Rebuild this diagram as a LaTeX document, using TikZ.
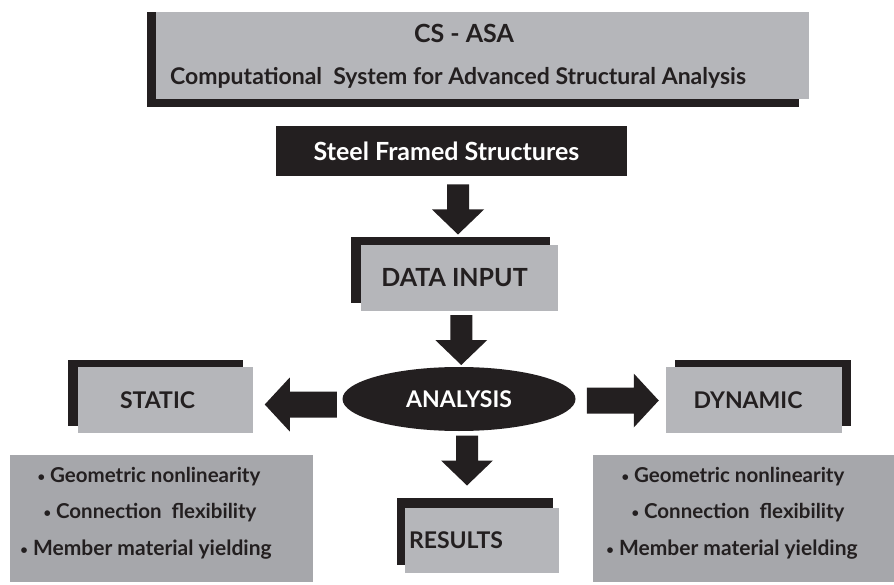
\documentclass[tikz,border=0pt]{standalone}
\usepackage{fontspec}
\setmainfont{Lato}
\usetikzlibrary{shapes.geometric,backgrounds,calc}
\definecolor{ink}{HTML}{231F20}
\definecolor{boxgray}{HTML}{B5B6BA}
\definecolor{listgray}{HTML}{A6A7AB}
\newcommand{\bul}{{\fontsize{13}{13}\selectfont\raisebox{1pt}{•}}}
\tikzset{
  gbox/.style={fill=boxgray, draw=none, inner sep=0pt, text=ink,
    font=\bfseries\fontsize{23}{26}\selectfont},
  sbox/.style={fill=ink, draw=none, inner sep=0pt},
  lbox/.style={fill=listgray, draw=none, inner sep=0pt},
  lbl/.style={text=ink, inner sep=0pt, font=\bfseries\fontsize{23}{26}\selectfont},
  blt/.style={text=ink, inner sep=0pt, font=\bfseries\fontsize{20.5}{24}\selectfont},
  pics/dnarrow/.style={code={\fill[ink] (-11,-25) -- (-11,0) -- (-26,0) -- (0,25) -- (26,0) -- (11,0) -- (11,-25) -- cycle;}},
  pics/lfarrow/.style={code={\fill[ink] (36,-13) -- (-11,-13) -- (-11,-27) -- (-36,0) -- (-11,27) -- (-11,13) -- (36,13) -- cycle;}},
  pics/rtarrow/.style={code={\fill[ink] (-36,-13) -- (11,-13) -- (11,-27) -- (36,0) -- (11,27) -- (11,13) -- (-36,13) -- cycle;}},
}
\begin{document}
\begin{tikzpicture}[x=1pt,y=-1pt]
\useasboundingbox (0,0) rectangle (894,585);
% top title box
\node[gbox, minimum width=653pt, minimum height=87pt] (top) at (482.5,55.5) {};
\node[lbl, font=\bfseries\fontsize{25}{28}\selectfont, anchor=base] (cs) at (464,43) {CS - ASA};
\node[lbl, anchor=base] (comp) at (458,85) {Computational\ \ System for Advanced Structural Analysis};
% steel framed structures
\node[sbox, minimum width=351pt, minimum height=50pt,
  label={[lbl, text=white, xshift=-5pt, font=\bfseries\fontsize{25}{28}\selectfont]center:Steel Framed Structures}] (steel) at (451.5,151) {};
% data input
\node[gbox, minimum width=197pt, minimum height=66pt,
  label={[lbl, xshift=-5pt, font=\bfseries\fontsize{25}{28}\selectfont]center:DATA INPUT}] (data) at (459.5,278) {};
% analysis
\node[ellipse, fill=ink, minimum width=233pt, minimum height=64pt, inner sep=0pt,
  text=white, font=\bfseries\fontsize{23}{26}\selectfont] (ana) at (459,399) {ANALYSIS};
% static
\node[gbox, minimum width=175pt, minimum height=66pt,
  label={[lbl, xshift=-8pt]center:STATIC}] (static) at (165.5,400) {};
% dynamic
\node[gbox, minimum width=176pt, minimum height=66pt,
  label={[lbl, xshift=-6pt]center:DYNAMIC}] (dyn) at (754,400) {};
% results
\node[gbox, minimum width=154pt, minimum height=65pt,
  label={[lbl, xshift=-26pt]center:RESULTS}] (res) at (482,540.5) {};
% list boxes
\node[lbox, minimum width=303pt, minimum height=127pt] (lst) at (161.5,518.5) {};
\node[lbox, minimum width=301pt, minimum height=127pt] (rst) at (743.5,518.5) {};
\node[blt] (l1) at (149,477) {\bul\ Geometric nonlinearity};
\node[blt] (l2) at (150,513) {\bul\ Connection\ \ flexibility};
\node[blt, font=\bfseries\fontsize{21}{24}\selectfont] (l3) at (146,550) {\bul\ Member material yielding};
\node[blt] (r1) at (733,477) {\bul\ Geometric nonlinearity};
\node[blt] (r2) at (738,513) {\bul\ Connection\ \ flexibility};
\node[blt, font=\bfseries\fontsize{21}{24}\selectfont] (r3) at (732,550) {\bul\ Member material yielding};
% shadows
\begin{scope}[on background layer]
  \fill[ink] ([xshift=-9pt]top.north west) rectangle ([xshift=-10pt,yshift=-8pt]top.south east);
  \node[sbox, minimum width=199pt, minimum height=66pt] (datash) at ([shift={(-9,-8)}]data.center) {};
  \node[sbox, minimum width=175pt, minimum height=66pt] (staticsh) at ([shift={(-10,-7)}]static.center) {};
  \node[sbox, minimum width=176pt, minimum height=66pt] (dynsh) at ([shift={(9,-7)}]dyn.center) {};
  \node[sbox, minimum width=156pt, minimum height=67pt] (ressh) at ([shift={(-7,-9)}]res.center) {};
\end{scope}
% block arrows
\pic at ($(steel.south)!0.5!(datash.north)+(7,3)$) {dnarrow};
\pic at ($(data.south)!0.5!(ana.north)+(2,1)$) {dnarrow};
\pic at ($(ana.south)!0.5!(ressh.north)+(0,-4)$) {dnarrow};
\pic at ($(static.east)!0.5!(ana.west)+(3,5)$) {lfarrow};
\pic at ($(ana.east)!0.5!(dyn.west)+(2,1)$) {rtarrow};
\end{tikzpicture}
\end{document}
